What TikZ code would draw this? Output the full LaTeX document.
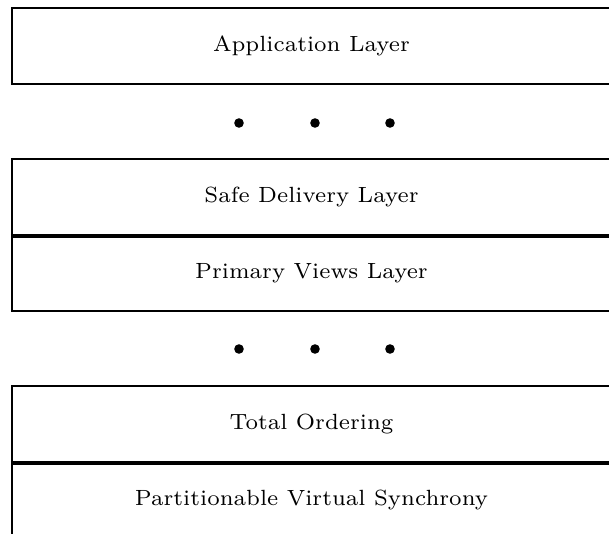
\documentclass[tikz,border=0pt]{standalone}
\usepackage{fontspec}
\setmainfont{lmroman7-regular.otf}
\begin{document}
\begin{tikzpicture}[x=0.5pt,y=-0.5pt,
  layer/.style={draw, line width=1.1pt, rectangle, minimum width=299.5pt,
    minimum height=38pt, inner sep=0pt, font=\fontsize{11}{13}\selectfont},
  sep/.style={line width=2pt},
  gap/.style={circle, fill, inner sep=0pt, minimum size=4.8pt}]
\useasboundingbox (0,0) rectangle (609,534);
\clip (0,0) rectangle (609,534);
% upper stack
\node[layer] (app) at (311.5,46) {Application Layer};
\node[gap] (d1) at (239,123) {};
\node[gap] (d2) at (315,123) {};
\node[gap] (d3) at (390,123) {};
% middle stack
\node[layer] (safe) at (311.5,197) {Safe Delivery Layer};
\node[layer] (prim) at (311.5,273) {Primary Views Layer};
\draw[sep] (safe.south west) -- (safe.south east);
\node[gap] (d4) at (239,349) {};
\node[gap] (d5) at (315,349) {};
\node[gap] (d6) at (390,349) {};
% lower stack
\node[layer] (tot) at (311.5,424) {Total Ordering};
\node[layer] (pvs) at (311.5,500) {Partitionable Virtual Synchrony};
\draw[sep] (tot.south west) -- (tot.south east);
\end{tikzpicture}
\end{document}
